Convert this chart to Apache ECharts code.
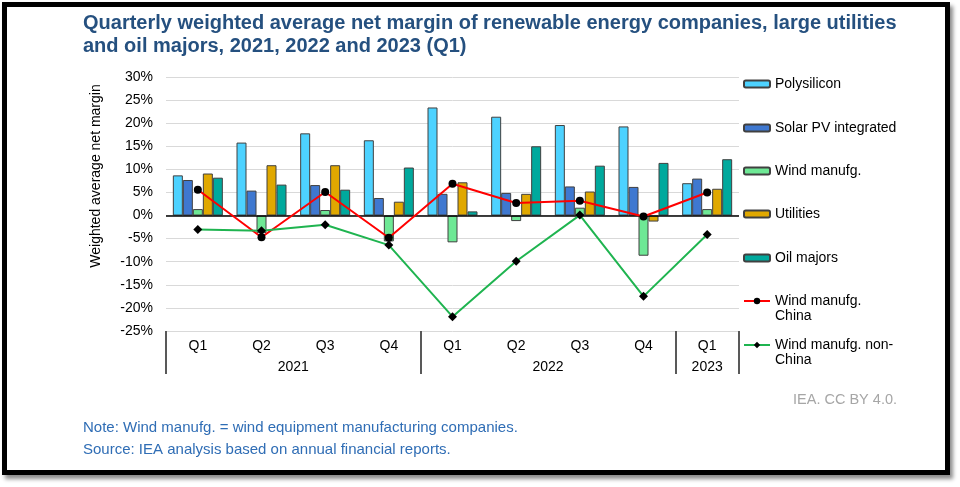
<!DOCTYPE html>
<html>
<head>
<meta charset="utf-8">
<script src="https://cdn.jsdelivr.net/npm/echarts@6/dist/echarts.min.js"></script>
<style>
  html, body { margin: 0; padding: 0; background: #fff; }
  #chart { position: absolute; left: 0; top: 0; width: 960px; height: 487px; }
  #frame {
    position: absolute; left: 2px; top: 2px; width: 948px; height: 473px;
    box-sizing: border-box; border: 5px solid #000;
    box-shadow: 3px 4px 4px rgba(0, 0, 0, 0.45); pointer-events: none;
  }
</style>
</head>
<body>
<div id="chart"></div>
<div id="frame"></div>
<script>
var quarters = ['Q1', 'Q2', 'Q3', 'Q4', 'Q1', 'Q2', 'Q3', 'Q4', 'Q1'];
// year labels on a half-step axis (19 points over the 9 quarters)
var yearSlots = ['', '', '', '', '2021', '', '', '', '', '', '', '', '2022', '', '', '', '', '2023', ''];
var yearBreaks = [0, 8, 16, 18];

var polysilicon = [8.7, 15.8, 17.8, 16.3, 23.4, 21.4, 19.6, 19.3, 7.0];
var solarPV     = [7.7, 5.4, 6.6, 3.8, 4.7, 4.9, 6.3, 6.2, 8.0];
var windManufg  = [1.4, -3.8, 1.2, -5.6, -5.8, -1.2, 1.7, -8.7, 1.4];
var utilities   = [9.1, 10.9, 10.9, 3.0, 7.2, 4.7, 5.2, -1.3, 5.8];
var oilMajors   = [8.2, 6.7, 5.6, 10.4, 0.9, 15.0, 10.8, 11.4, 12.2];
var windChina   = [5.6, -4.7, 5.1, -4.8, 6.9, 2.7, 3.2, -0.2, 5.0];
var windNonChina = [-3.0, -3.3, -2.0, -6.4, -21.9, -9.9, 0.1, -17.5, -4.1];

var FONT = '"Liberation Sans", Arial, sans-serif';

var myChart = echarts.init(document.getElementById('chart'));

var barSeries = function(name, data, color) {
  return {
    name: name,
    type: 'bar',
    barWidth: 10,
    barGap: '0%',
    data: data,
    itemStyle: { color: color, borderColor: '#404040', borderWidth: 1 }
  };
};

var legendItem = function(name, top, h) {
  return {
    data: [name],
    left: 743,
    top: top,
    padding: 0,
    itemWidth: 26,
    itemHeight: h || 7,
    itemGap: 2,
    selectedMode: false,
    textStyle: { fontFamily: FONT, fontSize: 14, color: '#000', lineHeight: 15 }
  };
};
// two-line names: a blank first line keeps the icon beside the first text line
var legendTwoLine = function(name, iconY) {
  var l = legendItem(name, iconY - 22.5, 8);
  l.formatter = function(n) { return '\n' + n; };
  return l;
};

var polyBars = barSeries('Polysilicon', polysilicon, '#4DD2FF');
polyBars.markLine = {
  silent: true,
  symbol: 'none',
  label: { show: false },
  lineStyle: { color: '#000', width: 1.5, type: 'solid' },
  data: [{ yAxis: 0 }]
};

var option = {
  animation: false,
  textStyle: { fontFamily: FONT },
  title: {
    text: 'Quarterly weighted average net margin of renewable energy companies, large utilities\nand oil majors, 2021, 2022 and 2023 (Q1)',
    left: 83,
    top: 11.5,
    padding: 0,
    textStyle: { fontFamily: FONT, fontSize: 20, fontWeight: 'bold', color: '#25507F', lineHeight: 23.5 }
  },
  legend: [
    legendItem('Polysilicon', 76.5),
    legendItem('Solar PV integrated', 120.5),
    legendItem('Wind manufg.', 163.5),
    legendItem('Utilities', 206.5),
    legendItem('Oil majors', 250.5),
    legendTwoLine('Wind manufg.\nChina', 301),
    legendTwoLine('Wind manufg. non-\nChina', 345)
  ],
  grid: { left: 166, right: 221, top: 77, bottom: 156 },
  xAxis: [
    {
      type: 'category',
      data: quarters,
      position: 'bottom',
      axisLine: { show: false, onZero: false },
      axisTick: { show: false },
      axisLabel: { margin: 8, fontSize: 14, color: '#000', fontFamily: FONT, interval: 0 }
    },
    {
      type: 'category',
      data: yearSlots,
      position: 'bottom',
      boundaryGap: false,
      axisLine: { show: false, onZero: false },
      axisTick: {
        show: true,
        length: 43,
        lineStyle: { color: '#595959', width: 2 },
        interval: function(index) { return yearBreaks.indexOf(index) >= 0; }
      },
      axisLabel: { margin: 29, fontSize: 14, color: '#000', fontFamily: FONT, interval: 0 },
      splitLine: { show: false }
    }
  ],
  yAxis: {
    type: 'value',
    min: -25,
    max: 30,
    interval: 5,
    name: 'Weighted average net margin',
    nameLocation: 'middle',
    nameGap: 63,
    nameTextStyle: { fontSize: 14, color: '#000', fontFamily: FONT, padding: [0, 0, 0, 56] },
    axisLine: { show: false },
    axisTick: { show: false },
    axisLabel: { formatter: '{value}%', fontSize: 14, color: '#000', fontFamily: FONT, margin: 13 },
    splitLine: { lineStyle: { color: '#D9D9D9', width: 1 } }
  },
  series: [
    polyBars,
    barSeries('Solar PV integrated', solarPV, '#3F78D0'),
    barSeries('Wind manufg.', windManufg, '#6EE895'),
    barSeries('Utilities', utilities, '#E0A800'),
    barSeries('Oil majors', oilMajors, '#00A99D'),
    {
      name: 'Wind manufg.\nChina',
      type: 'line',
      data: windChina,
      z: 5,
      symbol: 'circle',
      symbolSize: 8,
      lineStyle: { color: '#FF0000', width: 2 },
      itemStyle: { color: '#000' }
    },
    {
      name: 'Wind manufg. non-\nChina',
      type: 'line',
      data: windNonChina,
      z: 5,
      symbol: 'diamond',
      symbolSize: 9,
      lineStyle: { color: '#1FB450', width: 2 },
      itemStyle: { color: '#000' }
    }
  ],
  graphic: [
    {
      type: 'text', left: 83, top: 420,
      style: { text: 'Note: Wind manufg. = wind equipment manufacturing companies.', font: '15px ' + FONT, fill: '#2F6DB5' }
    },
    {
      type: 'text', left: 83, top: 442,
      style: { text: 'Source: IEA analysis based on annual financial reports.', font: '15px ' + FONT, fill: '#2F6DB5' }
    },
    {
      type: 'text', right: 63, top: 392,
      style: { text: 'IEA. CC BY 4.0.', font: '14.5px ' + FONT, fill: '#A6A6A6' }
    }
  ]
};

myChart.setOption(option);
</script>
</body>
</html>
